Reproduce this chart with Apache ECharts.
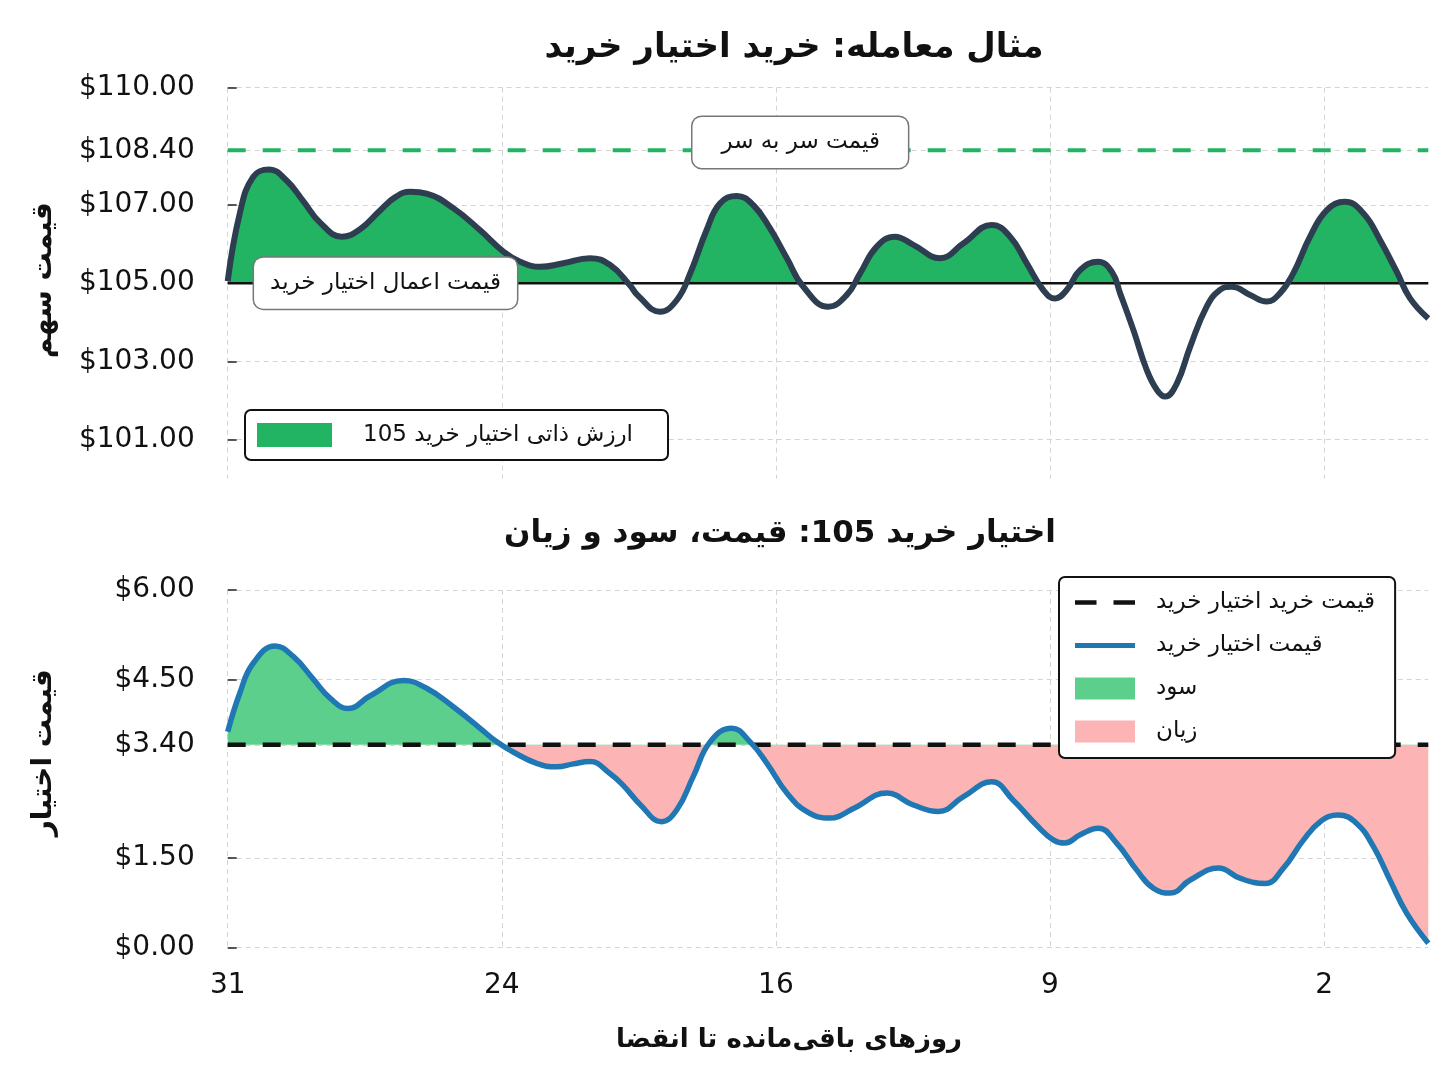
<!DOCTYPE html>
<html><head><meta charset="utf-8">
<script src="https://cdn.jsdelivr.net/npm/echarts@6/dist/echarts.min.js"></script>
<style>html,body{margin:0;padding:0;background:#fff}#c{width:1448px;height:1086px}</style>
</head><body><div id="c"></div>
<script>
// ---- data ----
const xTickVals = [0, 7, 14, 21, 28];
const xTickLabels = ['31', '24', '16', '9', '2'];
const X_MAX = 30.66;

const stockX = [0, 0.31, 0.65, 1.06, 1.51, 1.93, 2.36, 2.91, 3.38, 3.89, 4.28, 4.67, 5.08, 5.76, 6.44, 7.04, 7.47, 7.98, 8.57, 9.25, 9.76, 10.27, 10.48, 11.04, 11.47, 11.81, 12.23, 12.57, 13.0, 13.42, 13.85, 14.28, 14.7, 15.34, 15.81, 16.15, 16.57, 17.04, 17.51, 18.19, 18.79, 19.51, 19.98, 20.41, 20.83, 21.13, 21.43, 21.77, 22.23, 22.58, 22.79, 23.13, 23.47, 23.73, 23.94, 24.24, 24.58, 25.0, 25.34, 25.64, 26.11, 26.53, 26.87, 27.21, 27.64, 28.07, 28.53, 29.0, 29.43, 29.85, 30.19, 30.66];
const stockY = [105.05, 106.79, 107.72, 107.91, 107.62, 107.10, 106.55, 106.19, 106.38, 106.86, 107.20, 107.34, 107.29, 106.92, 106.36, 105.81, 105.55, 105.42, 105.51, 105.64, 105.47, 104.95, 104.68, 104.27, 104.57, 105.25, 106.36, 107.04, 107.23, 107.0, 106.40, 105.64, 104.91, 104.40, 104.70, 105.25, 105.93, 106.19, 105.98, 105.64, 106.02, 106.49, 106.19, 105.5, 104.82, 104.61, 104.83, 105.34, 105.55, 105.29, 104.74, 103.80, 102.78, 102.27, 102.10, 102.44, 103.38, 104.40, 104.83, 104.91, 104.70, 104.53, 104.74, 105.25, 106.19, 106.87, 107.08, 106.79, 106.10, 105.30, 104.62, 104.10];

const optX = [0, 0.31, 0.65, 1.21, 1.68, 2.19, 2.62, 3.08, 3.63, 4.49, 5.08, 5.76, 6.44, 6.87, 7.29, 7.89, 8.40, 8.83, 9.25, 9.76, 10.10, 10.53, 11.08, 11.47, 11.89, 12.32, 12.87, 13.34, 13.77, 14.28, 14.79, 15.38, 15.98, 16.83, 17.51, 18.15, 18.79, 19.51, 20.06, 20.66, 21.09, 21.38, 21.77, 22.23, 22.70, 23.21, 23.64, 24.07, 24.58, 25.30, 25.85, 26.49, 26.96, 27.47, 27.90, 28.36, 28.83, 29.26, 29.68, 30.11, 30.66];
const optY = [3.62, 4.27, 4.77, 5.06, 4.88, 4.50, 4.18, 4.01, 4.22, 4.48, 4.35, 4.04, 3.68, 3.45, 3.28, 3.09, 3.03, 3.08, 3.12, 2.92, 2.72, 2.40, 2.11, 2.31, 2.87, 3.45, 3.68, 3.45, 3.09, 2.59, 2.28, 2.17, 2.33, 2.59, 2.39, 2.28, 2.53, 2.78, 2.47, 2.05, 1.80, 1.75, 1.89, 2.00, 1.75, 1.30, 0.99, 0.91, 1.13, 1.33, 1.16, 1.07, 1.33, 1.80, 2.11, 2.22, 2.08, 1.69, 1.13, 0.57, 0.07];

const STRIKE = 105;
const BREAKEVEN = 108.4;
const PREMIUM = 3.4;
const topTicks = [101, 103, 105, 107, 108.4, 110];
const bottomTicks = [0, 1.5, 3.4, 4.5, 6];

const titles = ['مثال معامله: خرید اختیار خرید', 'اختیار خرید 105: قیمت، سود و زیان'];
const axisNames = ['قیمت سهم', 'قیمت اختیار', 'روزهای باقی‌مانده تا انقضا'];
const seriesNames = ['ارزش ذاتی اختیار خرید 105', 'قیمت خرید اختیار خرید', 'قیمت اختیار خرید', 'سود', 'زیان'];
const annoTexts = ['قیمت سر به سر', 'قیمت اعمال اختیار خرید'];
const annoPos = [[14.62, 108.6], [4.03, 105]];

// ---- style ----
const FONT = "'DejaVu Sans', sans-serif";
const C_GREEN = '#22b463';
const C_DARK = '#2c3e50';
const C_BLUE = '#1f77b4';
const C_PROFIT = '#5ccf8c';
const C_LOSS = '#fcb4b4';
const gridLine = { show: true, lineStyle: { color: '#d4d4d4', type: [5, 4], width: 1 } };
const SMOOTH = 0.45;

const pair = (xs, ys) => xs.map((x, i) => [x, ys[i]]);
const hLine = (xs, v) => [[xs[0], v], [xs[xs.length - 1], v]];
const money = v => '$' + Number(v).toFixed(2);

function xAxis(gi, showLabels) {
  return {
    type: 'value', gridIndex: gi, min: 0, max: X_MAX,
    axisLine: { show: false }, axisTick: { show: false, customValues: xTickVals },
    axisLabel: {
      show: showLabels, customValues: xTickVals, margin: 24,
      fontFamily: FONT, fontSize: 28, color: '#111',
      formatter: v => { const i = xTickVals.indexOf(Math.round(v)); return i >= 0 ? xTickLabels[i] : ''; }
    },
    splitLine: gridLine,
    name: showLabels ? axisNames[2] : '', nameLocation: 'middle', nameGap: 80,
    nameTextStyle: { fontFamily: FONT, fontSize: 26, fontWeight: 'bold', color: '#111', padding: [0, 78, 0, 0] }
  };
}
function yAxis(gi, mn, mx, ticks, name, pad) {
  return {
    type: 'value', gridIndex: gi, min: mn, max: mx,
    axisLine: { show: false },
    axisTick: { show: true, inside: true, length: 9, customValues: ticks, lineStyle: { color: '#222', width: 1.5 } },
    axisLabel: { customValues: ticks, margin: 33, fontFamily: FONT, fontSize: 28, color: '#111', formatter: money },
    splitLine: gridLine,
    name: name, nameLocation: 'middle', nameGap: 170,
    nameTextStyle: { fontFamily: FONT, fontSize: 28, fontWeight: 'bold', color: '#111', padding: [0, 0, 0, pad] }
  };
}
function annoLabel(text, pad) {
  return {
    show: true, position: 'inside', formatter: text,
    fontFamily: FONT, fontSize: 23, color: '#111',
    backgroundColor: '#fff', borderColor: '#777', borderWidth: 1.5, borderRadius: 9,
    padding: pad
  };
}
const noSym = { symbol: 'rect', symbolSize: 1, itemStyle: { color: 'rgba(0,0,0,0)' }, silent: true };

const chart = echarts.init(document.getElementById('c'));
chart.setOption({
  backgroundColor: '#fff',
  animation: false,
  graphic: [
    { type: 'text', x: 794, y: 48, style: { text: titles[0], font: "bold 34px 'DejaVu Sans', sans-serif", fill: '#111', textAlign: 'center', textVerticalAlign: 'middle' } },
    { type: 'text', x: 780, y: 534, style: { text: titles[1], font: "bold 31px 'DejaVu Sans', sans-serif", fill: '#111', textAlign: 'center', textVerticalAlign: 'middle' } }
  ],
  grid: [
    { left: 227.7, right: 19.7, top: 87.7, bottom: 1086 - 478.7 },
    { left: 227.7, right: 19.7, top: 590, bottom: 1086 - 947.3 }
  ],
  xAxis: [xAxis(0, false), xAxis(1, true)],
  yAxis: [yAxis(0, 100, 110, topTicks, axisNames[0], 6), yAxis(1, 0, 6, bottomTicks, axisNames[1], 32)],
  visualMap: [
    { type: 'piecewise', show: false, seriesIndex: 0, dimension: 1,
      pieces: [{ gt: STRIKE, lte: STRIKE + 100, color: C_GREEN }, { gte: STRIKE - 100, lte: STRIKE, color: 'rgba(255,255,255,0)' }] },
    { type: 'piecewise', show: false, seriesIndex: 4, dimension: 1,
      pieces: [{ gt: PREMIUM, lte: PREMIUM + 100, color: C_PROFIT }, { gte: PREMIUM - 100, lte: PREMIUM, color: C_LOSS }] }
  ],
  legend: [
    { left: 245, top: 410, padding: [13, 35, 13, 12], selectedMode: false,
      backgroundColor: '#fff', borderColor: '#111', borderWidth: 2, borderRadius: 6,
      itemWidth: 75, itemHeight: 24,
      textStyle: { fontFamily: FONT, fontSize: 23, color: '#111', padding: [0, 0, 0, 26] },
      data: [{ name: seriesNames[0], icon: 'rect', itemStyle: { color: C_GREEN, borderWidth: 0 } }] },
    { left: 1059, top: 577, orient: 'vertical', padding: [14, 20, 15, 16], itemGap: 20, selectedMode: false,
      backgroundColor: '#fff', borderColor: '#111', borderWidth: 2, borderRadius: 6,
      itemWidth: 60, itemHeight: 22,
      textStyle: { fontFamily: FONT, fontSize: 23, color: '#111', padding: [0, 0, 0, 16] },
      data: [
        { name: seriesNames[1], icon: 'path://M0,0h19v4h-19z M34,0h19v4h-19z', itemStyle: { color: '#111', borderWidth: 0 } },
        { name: seriesNames[2], icon: 'path://M0,0h60v5h-60z', itemStyle: { color: C_BLUE, borderWidth: 0 } },
        { name: seriesNames[3], icon: 'rect', itemStyle: { color: C_PROFIT, borderWidth: 0 } },
        { name: seriesNames[4], icon: 'rect', itemStyle: { color: C_LOSS, borderWidth: 0 } }
      ] }
  ],
  series: [
    { name: seriesNames[0], type: 'line', xAxisIndex: 0, yAxisIndex: 0, data: pair(stockX, stockY),
      smooth: SMOOTH, symbol: 'none', lineStyle: { width: 0 }, areaStyle: { origin: STRIKE, opacity: 1 }, z: 1, silent: true },
    { name: 'strike', type: 'line', xAxisIndex: 0, yAxisIndex: 0, data: hLine(stockX, STRIKE),
      symbol: 'none', lineStyle: { color: '#111', width: 2.5 }, z: 2, silent: true,
      markPoint: Object.assign({ data: [{ coord: annoPos[1], label: annoLabel(annoTexts[1], [15, 16, 13, 16]) }] }, noSym) },
    { name: 'breakeven', type: 'line', xAxisIndex: 0, yAxisIndex: 0, data: hLine(stockX, BREAKEVEN),
      symbol: 'none', lineStyle: { color: C_GREEN, width: 4, type: [18, 17] }, z: 2, silent: true,
      markPoint: Object.assign({ data: [{ coord: annoPos[0], label: annoLabel(annoTexts[0], [15, 28, 13, 29]) }] }, noSym) },
    { name: 'price', type: 'line', xAxisIndex: 0, yAxisIndex: 0, data: pair(stockX, stockY),
      smooth: SMOOTH, symbol: 'none', lineStyle: { color: C_DARK, width: 6 }, z: 3, silent: true },

    { name: 'optfill', type: 'line', xAxisIndex: 1, yAxisIndex: 1, data: pair(optX, optY),
      smooth: SMOOTH, symbol: 'none', lineStyle: { width: 0 }, areaStyle: { origin: PREMIUM, opacity: 1 }, z: 1, silent: true },
    { name: seriesNames[1], type: 'line', xAxisIndex: 1, yAxisIndex: 1, data: hLine(optX, PREMIUM),
      symbol: 'none', lineStyle: { color: '#111', width: 4.5, type: [18, 17] }, itemStyle: { color: '#111' }, z: 2, silent: true },
    { name: seriesNames[2], type: 'line', xAxisIndex: 1, yAxisIndex: 1, data: pair(optX, optY),
      smooth: SMOOTH, symbol: 'none', lineStyle: { color: C_BLUE, width: 5.5 }, itemStyle: { color: C_BLUE }, z: 3, silent: true },
    { name: seriesNames[3], type: 'line', xAxisIndex: 1, yAxisIndex: 1, data: [], symbol: 'none', itemStyle: { color: C_PROFIT } },
    { name: seriesNames[4], type: 'line', xAxisIndex: 1, yAxisIndex: 1, data: [], symbol: 'none', itemStyle: { color: C_LOSS } }
  ]
});
</script>
</body></html>
